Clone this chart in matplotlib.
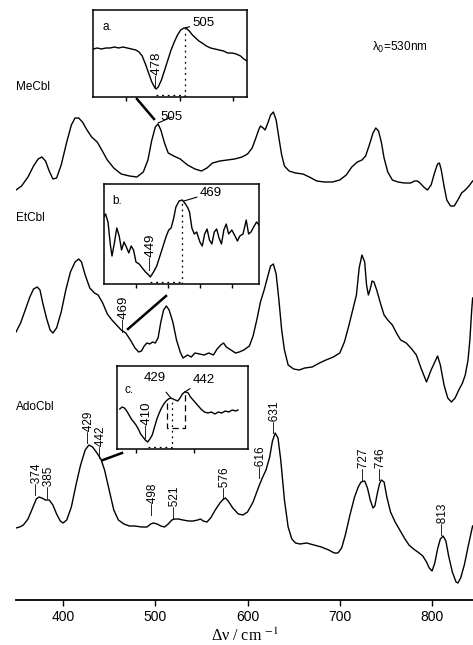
import numpy as np
import matplotlib
matplotlib.use("Agg")
import matplotlib.pyplot as plt
from matplotlib.lines import Line2D

# ---------------- data ----------------
me_wn = [349, 355, 362, 368, 373, 377, 381, 385, 389, 393, 398, 404, 409, 413, 417, 421, 426, 431, 437, 442,
         448, 455, 463, 472, 480, 487, 492, 496, 500, 503, 506, 510, 514, 520, 527, 535, 543, 550, 556, 562,
         570, 578, 586, 594, 600, 605, 609, 612, 614, 617, 619, 622, 625, 628, 631, 634, 637, 640, 645, 652,
         660, 667, 675, 683, 692, 700, 707, 713, 719, 724, 728, 732, 736, 739, 742, 745, 748, 752, 757, 763,
         770, 777, 781, 784, 787, 791, 795, 799, 803, 806, 808, 810, 813, 816, 820, 824, 828, 832, 836, 840, 844]
me_int = [20, 24, 33, 44, 51, 53, 49, 39, 31, 32, 45, 68, 85, 92, 92, 88, 80, 73, 68, 60,
          50, 42, 36, 34, 33, 38, 50, 69, 83, 86, 80, 67, 57, 54, 51, 45, 41, 39, 42, 47,
          49, 50, 51, 53, 56, 62, 72, 80, 84, 82, 80, 87, 95, 98, 90, 72, 55, 44, 39, 37,
          36, 33, 29, 28, 28, 30, 35, 43, 48, 50, 54, 65, 77, 82, 79, 68, 52, 38, 30, 28,
          27, 27, 29, 29, 27, 23, 20, 25, 38, 46, 47, 40, 24, 10, 4, 4, 10, 17, 20, 24, 29]

et_wn = [349, 354, 359, 364, 368, 372, 375, 378, 382, 386, 389, 393, 398, 403, 408, 413, 417, 420, 424, 429,
         434, 438, 443, 448, 453, 458, 463, 468, 473, 478, 482, 485, 488, 491, 494, 497, 500, 503, 506, 509,
         512, 515, 519, 523, 527, 530, 535, 539, 543, 548, 553, 558, 563, 567, 571, 574, 577, 582, 587, 591,
         596, 602, 606, 610, 614, 618, 622, 625, 628, 631, 634, 637, 640, 644, 650, 656, 662, 670, 678, 685,
         693, 700, 705, 710, 714, 718, 721, 724, 727, 729, 731, 733, 735, 737, 740, 744, 748, 752, 757, 762,
         766, 772, 778, 783, 788, 794, 799, 803, 806, 809, 813, 817, 821, 825, 829, 833, 836, 839, 841, 843, 844]
et_int = [78, 87, 100, 113, 121, 123, 120, 107, 92, 80, 77, 82, 98, 120, 138, 148, 151, 148, 135, 122,
          117, 115, 107, 96, 90, 85, 80, 77, 70, 62, 58, 59, 64, 67, 66, 68, 67, 72, 88, 100,
          104, 100, 88, 70, 58, 52, 55, 53, 57, 56, 55, 57, 55, 61, 65, 67, 63, 60, 57, 58,
          60, 64, 74, 90, 108, 120, 134, 144, 146, 136, 110, 80, 60, 45, 41, 40, 42, 43, 47, 50,
          53, 57, 68, 85, 100, 115, 142, 155, 148, 125, 115, 121, 129, 128, 120, 107, 95, 90, 85, 76,
          70, 67, 61, 55, 42, 28, 40, 48, 54, 45, 25, 12, 8, 12, 20, 27, 35, 50, 70, 100, 112]

ado_wn = [349, 353, 357, 362, 367, 371, 374, 377, 381, 385, 389, 393, 397, 400, 404, 409, 414, 419, 424, 428,
          432, 436, 441, 445, 450, 455, 460, 466, 472, 478, 485, 491, 495, 498, 502, 506, 510, 514, 518, 521,
          525, 530, 536, 541, 546, 549, 552, 556, 560, 565, 570, 574, 576, 579, 584, 590, 595, 600, 606, 612,
          616, 620, 624, 627, 630, 633, 636, 640, 644, 648, 652, 657, 664, 672, 680, 688, 694, 698, 702, 706,
          711, 716, 720, 723, 727, 730, 733, 736, 738, 741, 743, 745, 748, 751, 755, 760, 765, 770, 775, 780,
          786, 790, 794, 797, 800, 803, 806, 809, 812, 815, 818, 822, 826, 828, 831, 835, 839, 843, 844]
ado_int = [72, 73, 75, 81, 92, 101, 103, 102, 100, 100, 95, 86, 79, 77, 80, 93, 115, 135, 150, 155,
           153, 148, 141, 130, 110, 90, 80, 76, 74, 74, 73, 73, 76, 77, 76, 74, 73, 76, 80, 81,
           81, 80, 79, 79, 80, 81, 79, 78, 82, 90, 97, 101, 102, 99, 92, 86, 85, 88, 98, 113,
           122, 130, 143, 159, 167, 162, 140, 100, 73, 61, 57, 56, 57, 55, 53, 50, 47, 47, 52, 65,
           85, 103, 113, 118, 119, 112, 100, 92, 94, 108, 116, 120, 118, 103, 88, 78, 70, 62, 55, 51,
           47, 44, 38, 32, 29, 37, 51, 61, 64, 59, 44, 28, 18, 17, 22, 35, 53, 70, 74]

ado_peaks = [374, 385, 429, 442, 498, 521, 576, 616, 631, 727, 746, 813]
ado_peak_pos = [372, 385, 428, 441, 498, 521, 576, 615, 630, 726, 745, 812]
ado_label_base = [105, 102, 157, 142, 85, 82, 101, 122, 167, 120, 120, 65]

# inset a (MeCbl)
a_wn = [419, 423, 427, 431, 435, 439, 443, 447, 451, 455, 459, 462, 465, 468, 471, 474, 477, 478, 480, 483,
        486, 489, 492, 495, 498, 501, 504, 506, 509, 512, 515, 518, 521, 525, 529, 533, 537, 541, 545, 549,
        553, 557, 560, 563]
a_int = [48, 49, 48, 49, 49, 50, 49, 50, 49, 48, 47, 45, 41, 33, 24, 15, 9, 8, 10, 17,
         27, 37, 47, 55, 62, 67, 69, 69, 66, 62, 59, 56, 54, 51, 49, 48, 47, 46, 44, 44,
         43, 41, 38, 36]
# inset b (EtCbl)
b_wn = [420, 421, 422.5, 424, 425, 426.5, 428, 429.5, 431, 432.5, 434, 435.5, 437, 438.5, 440, 442, 444, 446,
        448, 449, 451, 453, 455, 457, 459, 460.5, 462, 463.5, 465, 467, 469, 471, 472.5, 473.5, 475, 476.5,
        478, 480, 481.5, 483, 484.5, 486, 487.5, 489, 490.5, 492, 493.5, 495, 496.5, 498, 500, 502, 503.5,
        505, 507, 509, 510.5, 512, 514, 515.5, 517]
b_int = [67, 70, 62, 39, 28, 41, 56, 48, 34, 42, 37, 31, 38, 34, 22, 20, 16, 12,
         9, 7, 12, 18, 28, 38, 48, 54, 56, 65, 77, 83, 84, 80, 76, 72, 56, 50,
         52, 42, 38, 50, 55, 44, 40, 52, 55, 46, 40, 54, 60, 50, 54, 48, 43,
         48, 50, 64, 50, 52, 58, 62, 59]
# inset c (AdoCbl)
c_wn = [386, 388, 390, 392, 394, 396, 398, 400, 402, 404, 406, 408, 410, 412, 414, 416, 418, 420, 422, 424,
        426, 428, 430, 432, 434, 436, 438, 440, 442, 443, 445, 447, 450, 453, 456, 459, 462, 465, 468, 471,
        474, 477, 480, 483, 486, 488]
c_int = [40, 42, 41, 38, 34, 30, 27, 24, 20, 15, 12, 9, 7, 10, 14, 22, 30, 36, 41, 45,
         48, 50, 51, 50, 49, 48, 51, 55, 57, 57, 56, 52, 48, 44, 40, 37, 36, 37, 35, 37,
         36, 38, 37, 39, 38, 39]

names = ["MeCbl", "EtCbl", "AdoCbl"]
# ---------------- figure ----------------
W, H = 473, 645
fig = plt.figure(figsize=(W / 100, H / 100), dpi=100)
SANS = ["Liberation Sans", "DejaVu Sans"]


def px_rect(x0, y0, x1, y1):
    return [x0 / W, 1 - y1 / H, (x1 - x0) / W, (y1 - y0) / H]


ax = fig.add_axes(px_rect(16, 0, 473, 600))
ax.set_xlim(349, 844.4)
ax.set_ylim(0, 600)
for s in ["top", "left", "right"]:
    ax.spines[s].set_visible(False)
ax.spines["bottom"].set_linewidth(1.3)
ax.set_yticks([])
ax.set_xticks([400, 500, 600, 700, 800])
ax.tick_params(axis="x", direction="out", length=4, width=1.0, labelsize=10, pad=3)
for lab in ax.get_xticklabels():
    lab.set_family(SANS)

shifts = [390, 190, 0]
for wn, it, sh in zip([me_wn, et_wn, ado_wn], [me_int, et_int, ado_int], shifts):
    ax.plot(wn, np.array(it) + sh, color="black", lw=1.0)

# name labels
ax.text(349.5, 513, names[0], fontsize=8.5, family=SANS, ha="left", va="center")
ax.text(349.5, 382, names[1], fontsize=8.5, family=SANS, ha="left", va="center")
ax.text(349.5, 193, names[2], fontsize=8.5, family=SANS, ha="left", va="center")
ax.text(735, 553, r"λ$_0$=530nm", fontsize=8.5, family=SANS, ha="left", va="center",
        math_fontfamily="dejavusans")

# AdoCbl peak labels
for lab, xp, yb in zip(ado_peaks, ado_peak_pos, ado_label_base):
    ax.text(xp, yb, "—" + str(lab), rotation=90, fontsize=8.5, family=SANS,
            ha="center", va="bottom")

# MeCbl 505 and EtCbl 469 labels on main traces
ax.annotate("505", xy=(503, 477), xytext=(506, 483), fontsize=9.5, family=SANS,
            ha="left", va="center", arrowprops=dict(arrowstyle="-", lw=0.8, shrinkA=0, shrinkB=0))
ax.text(466, 268, "—469", rotation=90, fontsize=9.5, family=SANS, ha="center", va="bottom")

ax.xaxis.set_label_coords((230 - 16) / 457, -36 / 600)
ax.set_xlabel(r"Δν / cm $^{-1}$", fontsize=11.5, family=["Liberation Serif"], va="center",
              math_fontfamily="stix")


def make_inset(rect_px, xlim, ylim, ticks):
    iax = fig.add_axes(px_rect(*rect_px))
    iax.set_xlim(*xlim)
    iax.set_ylim(*ylim)
    iax.set_yticks([])
    iax.set_xticks(ticks)
    iax.set_xticklabels([])
    iax.tick_params(axis="x", direction="out", length=3, width=1.0)
    for s in iax.spines.values():
        s.set_linewidth(1.1)
    return iax


dot = dict(color="black", lw=0.9, ls=(0, (1.5, 3)))

# inset a
ia = make_inset((93, 10, 247, 97), (419, 563), (0, 87), [450, 500, 550])
ia.plot(a_wn, a_int, color="black", lw=1.0)
ia.plot([505, 505], [0, 68], **dot)
ia.plot([478, 505], [2, 2], **dot)
ia.text(428, 70, "a.", fontsize=8.5, family=SANS, ha="left", va="center")
ia.annotate("505", xy=(505, 69), xytext=(512, 74), fontsize=9.5, family=SANS, ha="left", va="center",
            arrowprops=dict(arrowstyle="-", lw=0.8, shrinkA=0, shrinkB=0))
ia.text(479, 9, "—478", rotation=90, fontsize=9.5, family=SANS, ha="center", va="bottom")

# inset b
ib = make_inset((104, 184, 259, 284), (420, 517), (0, 100), [440, 460, 480, 500])
ib.plot(b_wn, b_int, color="black", lw=1.0)
ib.plot([469, 469], [0, 82], **dot)
ib.plot([449, 469], [2, 2], **dot)
ib.text(425, 83, "b.", fontsize=8.5, family=SANS, ha="left", va="center")
ib.annotate("469", xy=(470, 83), xytext=(480, 91), fontsize=9.5, family=SANS, ha="left", va="center",
            arrowprops=dict(arrowstyle="-", lw=0.8, shrinkA=0, shrinkB=0))
ib.text(449.5, 14, "—449", rotation=90, fontsize=9.5, family=SANS, ha="center", va="bottom")

# inset c
ic = make_inset((117, 366, 248, 449), (383.6, 496.6), (0, 83), [400, 450])
ic.plot(c_wn, c_int, color="black", lw=1.0)
ic.plot([431, 431], [0, 49], **dot)
ic.plot([410, 431], [2, 2], **dot)
ic.plot([427, 427, 442, 442], [46, 21, 21, 56], color="black", lw=0.9, ls=(0, (5, 3)))
ic.text(390.5, 59, "c.", fontsize=8.5, family=SANS, ha="left", va="center")
ic.annotate("429", xy=(430, 51), xytext=(416, 71), fontsize=9.5, family=SANS, ha="center", va="center",
            arrowprops=dict(arrowstyle="-", lw=0.8, shrinkA=5, shrinkB=0))
ic.annotate("442", xy=(442, 57), xytext=(449, 69), fontsize=9.5, family=SANS, ha="left", va="center",
            arrowprops=dict(arrowstyle="-", lw=0.8, shrinkA=0, shrinkB=0))
ic.text(409.5, 11, "—410", rotation=90, fontsize=9.5, family=SANS, ha="center", va="bottom")

# connector lines between insets and main traces
for (x0, y0), (x1, y1) in [((137, 99), (154, 119)), ((128, 329), (166, 296)), ((103, 460), (122, 453))]:
    fig.add_artist(Line2D([x0 / W, x1 / W], [1 - y0 / H, 1 - y1 / H], color="black", lw=1.8,
                          transform=fig.transFigure))

fig.savefig("out.png", dpi=100)
